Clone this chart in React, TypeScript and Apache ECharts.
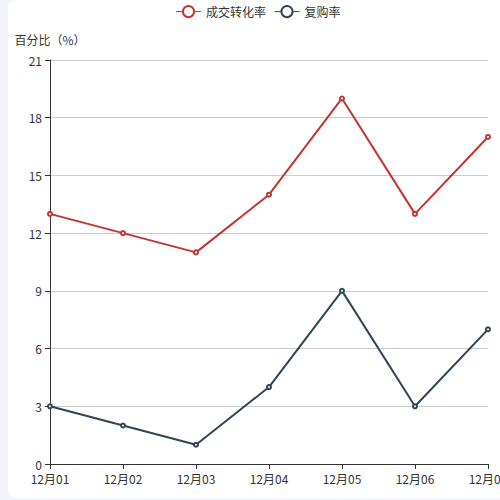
import { useEffect, useRef } from "react";
import * as echarts from "echarts";

const days = ["12月01", "12月02", "12月03", "12月04", "12月05", "12月06", "12月07"];
const conversionRate = [13, 12, 11, 14, 19, 13, 17];
const repurchaseRate = [3, 2, 1, 4, 9, 3, 7];

const font = '"Microsoft YaHei", "Noto Sans CJK SC", sans-serif';

export default function App() {
  const chartRef = useRef<HTMLDivElement>(null);

  useEffect(() => {
    document.body.style.margin = "0";
    document.body.style.background = "#f3f4f9";
    document.body.style.overflow = "hidden";
    if (!chartRef.current) return;
    const chart = echarts.init(chartRef.current, undefined, { renderer: "svg" });
    chart.setOption({
      animation: false,
      textStyle: { fontFamily: font },
      legend: {
        top: 0,
        data: ["成交转化率", "复购率"],
        itemStyle: { borderWidth: 1 },
        lineStyle: { width: 1 },
        textStyle: { color: "#333", fontSize: 12, fontFamily: font },
      },
      grid: { left: 42, right: 20, top: 60, bottom: 34, outerBoundsMode: "none" },
      xAxis: {
        type: "category",
        boundaryGap: false,
        data: days,
        axisLine: { lineStyle: { color: "#333" } },
        axisTick: { lineStyle: { color: "#333" } },
        axisLabel: { color: "#333", fontSize: 12 },
      },
      yAxis: {
        type: "value",
        name: "百分比（%）",
        nameTextStyle: { color: "#333", fontSize: 12 },
        min: 0,
        max: 21,
        interval: 3,
        axisLine: { show: true, lineStyle: { color: "#333" } },
        axisTick: { show: true, lineStyle: { color: "#333" } },
        axisLabel: { color: "#333", fontSize: 12 },
        splitLine: { lineStyle: { color: "#ccc" } },
      },
      series: [
        {
          name: "成交转化率",
          type: "line",
          data: conversionRate,
          symbol: "emptyCircle",
          symbolSize: 4,
          lineStyle: { width: 2 },
          itemStyle: { color: "#c23531" },
        },
        {
          name: "复购率",
          type: "line",
          data: repurchaseRate,
          symbol: "emptyCircle",
          symbolSize: 4,
          lineStyle: { width: 2 },
          itemStyle: { color: "#2f4554" },
        },
      ],
    });
    return () => chart.dispose();
  }, []);

  return (
    <div
      style={{
        position: "absolute",
        left: 8,
        top: 0,
        width: 540,
        height: 498,
        background: "#fff",
        borderRadius: 8,
      }}
    >
      <div ref={chartRef} style={{ width: 500, height: 498 }} />
    </div>
  );
}
